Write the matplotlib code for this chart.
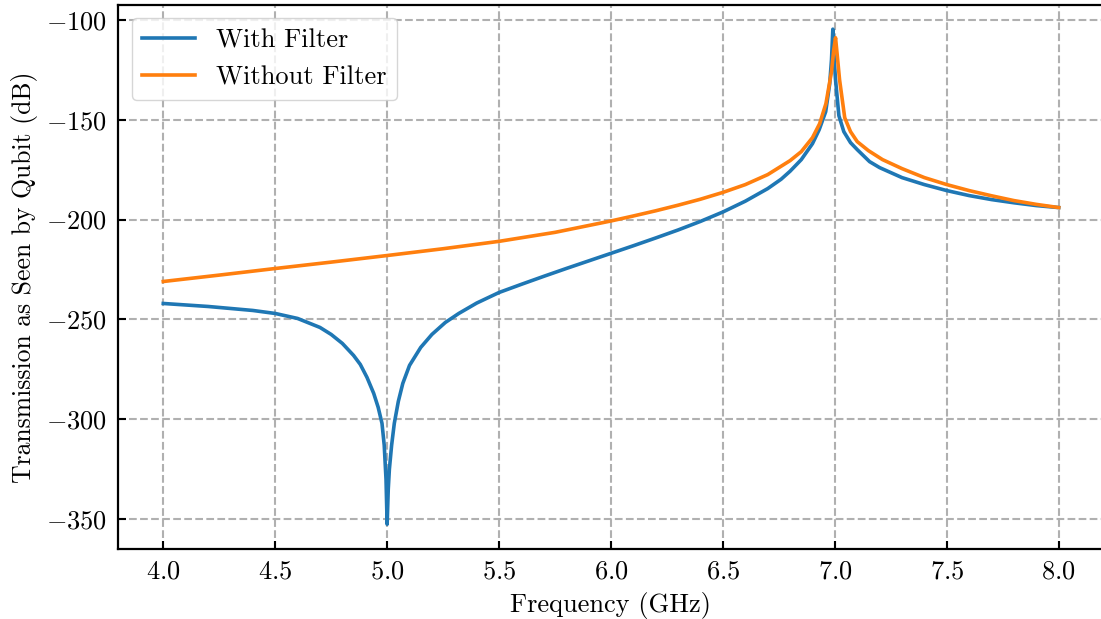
import matplotlib
matplotlib.use("Agg")
import matplotlib.pyplot as plt

plt.rcParams['font.family'] = 'serif'
plt.rcParams['font.serif'] = ['cmr10']
plt.rcParams['mathtext.fontset'] = 'cm'
plt.rcParams['axes.formatter.use_mathtext'] = True
plt.rcParams['axes.unicode_minus'] = True

# values (GHz, dB)
f_with = [4.0, 4.2, 4.4, 4.5, 4.6, 4.7, 4.75, 4.8, 4.85, 4.88, 4.91, 4.94, 4.96,
          4.977, 4.987, 4.995, 5.0, 5.005, 5.01, 5.02, 5.032, 5.05, 5.07, 5.1,
          5.15, 5.2, 5.26, 5.32, 5.4, 5.5, 5.6, 5.7, 5.8, 5.9, 6.0, 6.1, 6.2,
          6.3, 6.4, 6.5, 6.6, 6.7, 6.76, 6.8, 6.85, 6.9, 6.93, 6.959, 6.977,
          6.985, 6.991, 6.997, 7.003, 7.018, 7.04, 7.07, 7.1, 7.155, 7.2, 7.3,
          7.4, 7.5, 7.6, 7.7, 7.8, 7.9, 8.0]
s_with = [-242, -243.5, -245.5, -247, -249.5, -254, -257.5, -262, -268, -272.5, -279, -287, -294,
          -302, -313, -330, -352.5, -335, -325, -313, -302, -291, -282, -273,
          -264, -257.5, -251.5, -247, -241.8, -236.5, -232.4, -228.4, -224.5, -220.7, -216.9, -213.1, -209.2,
          -205.2, -200.9, -196.2, -190.8, -184.5, -179.8, -175.8, -170, -162, -155, -146, -132,
          -120, -104.7, -120, -130, -148, -156, -161.5, -165, -171, -174, -179,
          -182.5, -185.5, -188, -190, -191.6, -193, -194]

f_without = [4.0, 4.25, 4.5, 4.75, 5.0, 5.25, 5.5, 5.75, 6.0, 6.1, 6.2, 6.3, 6.4,
             6.5, 6.6, 6.7, 6.8, 6.85, 6.9, 6.932, 6.96, 6.985, 6.995, 7.003,
             7.01, 7.021, 7.044, 7.07, 7.1, 7.15, 7.213, 7.3, 7.4, 7.5, 7.6,
             7.7, 7.8, 7.9, 8.0]
s_without = [-231, -227.8, -224.5, -221.3, -218, -214.6, -210.9, -206.4, -200.7, -198.2, -195.6, -192.8, -189.8,
             -186.4, -182.5, -177.5, -170.5, -166, -159, -152, -142, -126, -115, -109,
             -117, -130, -149, -156, -161, -165.5, -170, -174.5, -179, -182.5, -185.5,
             -188.1, -190.5, -192.4, -194]

fig = plt.figure(figsize=(11.01, 6.19), dpi=100)
ax = fig.add_axes([118.5/1101, 1-549/619, 985/1101, 544/619])

ax.plot(f_with, s_with, color='#1f77b4', lw=2.6, label='With Filter')
ax.plot(f_without, s_without, color='#ff7f0e', lw=2.6, label='Without Filter')

ax.set_xlim(3.8, 8.2)
ax.set_ylim(-364.9, -92.6)
ax.set_xticks([4.0, 4.5, 5.0, 5.5, 6.0, 6.5, 7.0, 7.5, 8.0])
ax.set_yticks([-350, -300, -250, -200, -150, -100])

ax.grid(True, ls='--', color='#b0b0b0', lw=1.5)
ax.tick_params(direction='in', length=6, width=1.5, labelsize=19, pad=8)
for sp in ax.spines.values():
    sp.set_linewidth(1.6)

ax.set_xlabel('Frequency (GHz)', fontsize=19, labelpad=6)
ax.set_ylabel('Transmission as Seen by Qubit (dB)', fontsize=18.5, labelpad=6)
ax.legend(loc='upper left', fontsize=19, handlelength=2.0)

fig.savefig('out.png', dpi=100)
